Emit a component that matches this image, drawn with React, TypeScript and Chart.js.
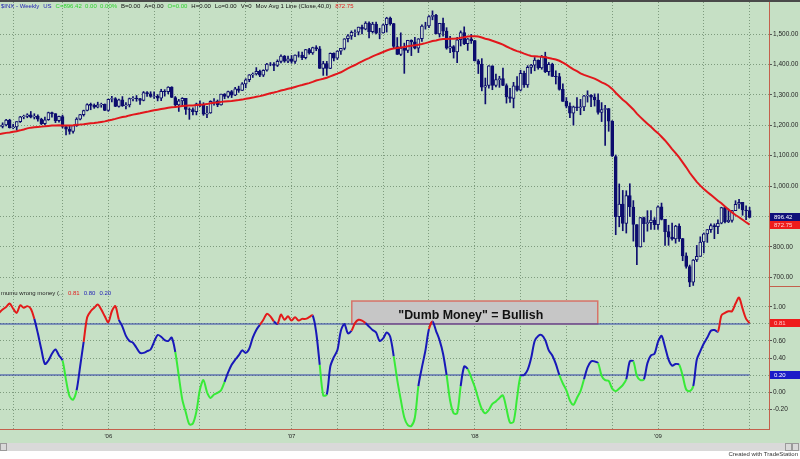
import React, { useEffect, useRef } from "react";
import { Chart, registerables } from "chart.js";

Chart.register(...registerables);

// Weekly S&P 500 bars, first bar = week ending Friday 3 June 2005, last = week ending 2 July 2009
const FIRST_WEEK_ENDING = { year: 2005, month: 5, day: 3 };

// Closes of the 39 weeks before the first plotted bar (seed for the 40-week average)
const priorCloses = [
  1113.63, 1123.92, 1128.55, 1110.11, 1131.5, 1122.14, 1108.2, 1095.74, 1130.2,
  1166.17, 1184.17, 1170.34, 1182.65, 1191.17, 1188.0, 1194.2, 1210.13, 1211.92,
  1186.19, 1184.52, 1167.87, 1171.36, 1203.03, 1205.3, 1201.59, 1211.37, 1222.12,
  1200.08, 1190.21, 1171.42, 1172.92, 1191.14, 1142.62, 1152.12, 1156.85, 1178.84,
  1154.05, 1189.28, 1198.78,
];

const openPrices = [
  1198.8, 1196.0, 1200.9, 1217.0, 1191.6, 1194.4, 1211.9, 1227.9, 1229.0, 1234.2,
  1226.4, 1230.4, 1219.7, 1205.1, 1218.0, 1241.5, 1237.9, 1215.3, 1228.8, 1195.9,
  1186.6, 1179.6, 1198.4, 1220.1, 1234.7, 1248.3, 1268.3, 1265.1, 1259.4, 1267.3,
  1268.7, 1248.3, 1285.5, 1287.6, 1261.5, 1283.7, 1264.0, 1267.0, 1287.2, 1289.4,
  1287.2, 1281.4, 1307.3, 1303.0, 1294.8, 1295.5, 1289.1, 1311.3, 1310.6, 1325.8,
  1291.2, 1267.0, 1280.2, 1288.2, 1252.3, 1251.5, 1244.5, 1270.2, 1265.5, 1236.2,
  1240.3, 1278.6, 1279.4, 1266.7, 1302.3, 1295.1, 1311.0, 1298.9, 1319.7, 1314.8,
  1335.9, 1349.6, 1365.6, 1368.6, 1377.3, 1364.3, 1380.9, 1401.2, 1401.0, 1396.7,
  1409.8, 1427.1, 1410.8, 1418.3, 1409.7, 1430.7, 1430.5, 1422.2, 1448.4, 1438.1,
  1455.5, 1451.2, 1387.2, 1402.8, 1387.0, 1436.1, 1420.9, 1443.8, 1452.9, 1484.4,
  1494.1, 1505.6, 1505.9, 1522.8, 1515.7, 1536.3, 1507.7, 1532.9, 1502.6, 1503.4,
  1530.4, 1552.5, 1534.1, 1459.0, 1433.1, 1453.6, 1445.9, 1479.4, 1474.0, 1453.6,
  1484.3, 1525.8, 1526.8, 1557.6, 1561.8, 1500.6, 1535.3, 1509.7, 1453.7, 1458.7,
  1440.7, 1481.1, 1504.7, 1468.0, 1484.5, 1478.5, 1411.6, 1401.0, 1325.2, 1330.6,
  1395.4, 1331.3, 1350.0, 1353.1, 1330.6, 1293.4, 1288.1, 1329.5, 1315.2, 1370.4,
  1332.8, 1390.3, 1397.8, 1413.9, 1388.3, 1425.4, 1375.9, 1400.4, 1360.7, 1360.0,
  1317.9, 1278.4, 1262.9, 1239.5, 1260.7, 1257.8, 1260.3, 1296.3, 1298.2, 1292.2,
  1282.8, 1242.3, 1251.7, 1255.1, 1213.3, 1097.0, 899.2, 940.6, 876.8, 968.7,
  931.0, 873.3, 800.0, 896.2, 876.1, 879.7, 887.9, 872.8, 931.8, 890.4,
  850.1, 832.0, 825.9, 868.6, 826.8, 770.1, 735.1, 683.4, 756.6, 768.5,
  815.9, 842.5, 856.6, 869.6, 866.2, 877.5, 929.2, 882.9, 887.0, 919.1,
  940.1, 946.2, 921.2, 918.9,
];

const highPrices = [
  1205.6, 1208.0, 1219.1, 1219.6, 1203.3, 1211.9, 1229.3, 1233.2, 1237.8, 1245.2,
  1237.8, 1234.5, 1223.0, 1227.0, 1243.1, 1243.1, 1238.0, 1229.9, 1233.3, 1197.0,
  1198.0, 1199.3, 1224.6, 1235.7, 1249.6, 1270.6, 1272.9, 1270.0, 1275.8, 1272.6,
  1270.0, 1286.1, 1294.9, 1290.8, 1286.0, 1294.2, 1274.6, 1289.4, 1294.2, 1297.6,
  1288.2, 1310.9, 1310.9, 1310.1, 1310.0, 1300.7, 1318.2, 1317.0, 1326.7, 1326.7,
  1294.4, 1285.0, 1290.7, 1288.8, 1257.0, 1257.3, 1272.8, 1280.4, 1274.0, 1262.4,
  1280.6, 1287.9, 1283.0, 1302.7, 1304.0, 1312.0, 1314.3, 1325.0, 1328.5, 1340.1,
  1353.0, 1366.6, 1372.0, 1389.5, 1381.4, 1382.5, 1403.8, 1406.3, 1406.3, 1415.0,
  1431.8, 1429.3, 1427.0, 1429.4, 1431.6, 1441.6, 1440.7, 1449.3, 1453.0, 1456.8,
  1461.6, 1459.0, 1410.3, 1410.0, 1437.7, 1437.8, 1445.0, 1453.1, 1484.7, 1498.0,
  1510.3, 1513.8, 1522.8, 1529.3, 1540.6, 1540.0, 1538.7, 1539.6, 1519.0, 1532.4,
  1555.1, 1555.9, 1535.0, 1488.3, 1503.9, 1470.0, 1479.4, 1481.0, 1488.7, 1485.0,
  1530.0, 1538.7, 1561.0, 1576.1, 1565.0, 1535.3, 1552.8, 1520.8, 1492.1, 1462.0,
  1488.9, 1510.3, 1523.6, 1485.5, 1499.0, 1479.0, 1416.0, 1419.0, 1355.2, 1396.0,
  1395.4, 1368.0, 1361.0, 1388.3, 1336.0, 1321.7, 1341.0, 1359.7, 1380.9, 1378.0,
  1395.9, 1399.9, 1422.7, 1415.0, 1429.5, 1440.2, 1406.3, 1404.1, 1379.0, 1370.6,
  1336.0, 1291.0, 1274.0, 1263.0, 1291.2, 1285.0, 1297.9, 1313.2, 1300.7, 1303.0,
  1303.0, 1274.4, 1265.0, 1255.1, 1215.0, 1102.0, 1006.9, 985.4, 984.4, 1007.5,
  952.0, 873.3, 897.0, 897.5, 918.9, 918.8, 896.0, 934.7, 943.9, 890.4,
  871.0, 877.9, 870.8, 876.0, 827.8, 780.1, 740.0, 758.3, 804.5, 832.9,
  845.6, 856.6, 875.6, 875.6, 888.7, 930.2, 930.2, 924.6, 920.0, 951.7,
  956.2, 946.3, 935.0, 930.2,
];

const lowPrices = [
  1191.1, 1191.0, 1198.0, 1190.5, 1188.3, 1183.6, 1209.0, 1221.0, 1224.5, 1224.0,
  1220.5, 1213.0, 1202.0, 1201.1, 1216.0, 1226.5, 1208.6, 1210.0, 1191.0, 1168.0,
  1170.5, 1174.0, 1196.0, 1217.0, 1230.0, 1247.0, 1250.9, 1255.5, 1257.0, 1259.0,
  1248.0, 1245.7, 1277.0, 1260.9, 1259.4, 1261.7, 1253.6, 1260.0, 1279.5, 1278.7,
  1268.4, 1280.0, 1295.0, 1291.8, 1288.0, 1280.0, 1280.7, 1295.6, 1303.0, 1291.0,
  1259.0, 1245.3, 1262.0, 1235.2, 1219.3, 1234.0, 1234.0, 1261.0, 1232.5, 1224.5,
  1239.0, 1265.7, 1261.0, 1266.0, 1287.0, 1290.0, 1290.9, 1297.0, 1308.0, 1314.0,
  1323.0, 1343.0, 1357.0, 1365.0, 1360.0, 1360.0, 1378.0, 1395.5, 1379.8, 1393.0,
  1404.6, 1407.0, 1406.0, 1403.9, 1403.0, 1424.0, 1416.0, 1418.0, 1433.4, 1433.0,
  1445.0, 1386.6, 1363.9, 1363.8, 1386.0, 1411.4, 1416.0, 1433.0, 1448.0, 1474.0,
  1482.5, 1491.0, 1497.0, 1500.5, 1513.8, 1487.0, 1503.0, 1500.2, 1484.2, 1503.0,
  1506.3, 1529.0, 1455.0, 1432.5, 1429.0, 1370.6, 1439.0, 1429.0, 1451.0, 1439.0,
  1476.0, 1516.0, 1521.0, 1546.7, 1500.0, 1490.0, 1492.5, 1450.0, 1438.5, 1420.8,
  1406.1, 1460.7, 1465.0, 1446.0, 1469.0, 1411.2, 1370.0, 1313.0, 1270.1, 1322.0,
  1316.8, 1326.0, 1324.5, 1330.0, 1272.7, 1274.8, 1257.0, 1312.0, 1312.6, 1324.4,
  1324.4, 1370.0, 1379.0, 1384.0, 1384.0, 1373.0, 1364.1, 1359.9, 1335.5, 1315.3,
  1278.3, 1257.0, 1225.0, 1200.4, 1248.0, 1234.4, 1247.5, 1276.0, 1261.0, 1263.0,
  1236.0, 1212.0, 1133.5, 1180.0, 1097.0, 839.8, 865.8, 852.9, 845.3, 899.7,
  818.7, 741.0, 799.0, 815.7, 851.4, 857.1, 857.0, 857.3, 888.3, 804.5,
  804.9, 821.7, 812.0, 818.0, 754.3, 729.6, 666.8, 672.9, 751.5, 768.5,
  779.9, 814.5, 847.0, 826.8, 843.0, 875.6, 878.9, 879.6, 880.9, 919.1,
  925.9, 903.8, 888.9, 896.4,
];

const closePrices = [
  1196.02, 1200.93, 1216.96, 1191.57, 1194.44, 1211.86, 1227.92, 1229.03, 1234.18, 1226.42,
  1230.39, 1219.71, 1205.1, 1218.02, 1241.48, 1237.91, 1215.29, 1228.81, 1195.9, 1186.57,
  1179.59, 1198.41, 1220.14, 1234.72, 1248.27, 1268.25, 1265.08, 1259.37, 1267.32, 1268.66,
  1248.29, 1285.45, 1287.61, 1261.49, 1283.72, 1264.03, 1266.99, 1287.24, 1289.43, 1287.23,
  1281.42, 1307.25, 1302.95, 1294.83, 1295.5, 1289.12, 1311.28, 1310.61, 1325.76, 1291.24,
  1267.03, 1280.16, 1288.22, 1252.3, 1251.54, 1244.5, 1270.2, 1265.48, 1236.2, 1240.29,
  1278.55, 1279.36, 1266.74, 1302.3, 1295.09, 1311.01, 1298.92, 1319.66, 1314.78, 1335.85,
  1349.59, 1365.62, 1368.6, 1377.34, 1364.3, 1380.9, 1401.2, 1400.95, 1396.71, 1409.84,
  1427.09, 1410.76, 1418.3, 1409.71, 1430.73, 1430.5, 1422.18, 1448.39, 1438.06, 1455.54,
  1451.19, 1387.17, 1402.84, 1386.95, 1436.11, 1420.86, 1443.76, 1452.85, 1484.35, 1494.07,
  1505.62, 1505.85, 1522.75, 1515.73, 1536.34, 1507.67, 1532.91, 1502.56, 1503.35, 1530.44,
  1552.5, 1534.1, 1458.95, 1433.06, 1453.64, 1445.94, 1479.37, 1473.99, 1453.55, 1484.25,
  1525.75, 1526.75, 1557.59, 1561.8, 1500.63, 1535.28, 1509.65, 1453.7, 1458.74, 1440.7,
  1481.14, 1504.66, 1467.95, 1484.46, 1478.49, 1411.63, 1401.02, 1325.19, 1330.61, 1395.42,
  1331.29, 1349.99, 1353.11, 1330.63, 1293.37, 1288.14, 1329.51, 1315.22, 1370.4, 1332.83,
  1390.33, 1397.84, 1413.9, 1388.28, 1425.35, 1375.93, 1400.38, 1360.68, 1360.03, 1317.93,
  1278.38, 1262.9, 1239.49, 1260.68, 1257.76, 1260.31, 1296.32, 1298.2, 1292.2, 1282.83,
  1242.31, 1251.7, 1255.08, 1213.27, 1099.23, 899.22, 940.55, 876.77, 968.75, 930.99,
  873.29, 800.03, 896.24, 876.07, 879.73, 887.88, 872.8, 931.8, 890.35, 850.12,
  831.95, 825.88, 868.6, 826.84, 770.05, 735.09, 683.38, 756.55, 768.54, 815.94,
  842.5, 856.56, 869.6, 866.23, 877.52, 929.23, 882.88, 887.0, 919.14, 940.09,
  946.21, 921.23, 918.9, 896.42,
];

// "wrong money" sentiment oscillator, one value per weekly bar
const moneyIndex = [
  0.93, 0.97, 1.0, 1.04, 0.98, 0.93, 1.02, 0.99, 1.01, 0.98,
  0.86, 0.69, 0.5, 0.33, 0.37, 0.45, 0.5, 0.43, 0.37, 0.14,
  -0.05, -0.09, 0.02, 0.3, 0.59, 0.88, 0.95, 0.99, 1.03, 0.97,
  0.89, 0.82, 0.95, 1.01, 0.85, 0.77, 0.66, 0.6, 0.58, 0.52,
  0.46, 0.46, 0.48, 0.5, 0.59, 0.67, 0.65, 0.61, 0.6, 0.64,
  0.47, 0.19, -0.09, -0.24, -0.38, -0.37, -0.23, 0.03, 0.14, 0.0,
  -0.07, -0.03, -0.01, 0.02, 0.12, 0.23, 0.32, 0.38, 0.43, 0.49,
  0.46, 0.51, 0.64, 0.73, 0.79, 0.85, 0.92, 0.89, 0.83, 0.8,
  0.91, 0.85, 0.89, 0.84, 0.88, 0.84, 0.86, 0.86, 0.88, 0.9,
  0.7, 0.32, -0.04, -0.03, 0.3, 0.41, 0.49, 0.72, 0.8, 0.69,
  0.72, 0.81, 0.85, 0.84, 0.81, 0.77, 0.73, 0.7, 0.6, 0.63,
  0.7, 0.65, 0.42, 0.14, -0.09, -0.3, -0.39, -0.4, -0.3, 0.07,
  0.29, 0.49, 0.74, 0.83, 0.72, 0.61, 0.45, 0.2, -0.1, -0.25,
  -0.25, 0.07, 0.3, 0.27, 0.17, 0.06, -0.08, -0.2, -0.25, -0.21,
  -0.14, -0.11, -0.07, -0.04, -0.2, -0.36, -0.35, -0.07, 0.19, 0.2,
  0.26, 0.4, 0.6, 0.66, 0.67, 0.61, 0.49, 0.43, 0.33, 0.2,
  0.1, 0.02, -0.1, -0.15, -0.07, 0.01, 0.15, 0.29, 0.36, 0.36,
  0.34, 0.19, 0.14, 0.13, 0.04, 0.01, 0.04, 0.08, 0.15, 0.36,
  0.36, 0.19, 0.14, 0.15, 0.34, 0.43, 0.45, 0.59, 0.66, 0.53,
  0.38, 0.31, 0.33, 0.32, 0.19, 0.03, 0.01, 0.07, 0.38, 0.48,
  0.57, 0.64, 0.72, 0.73, 0.71, 0.9, 0.93, 0.95, 0.95, 1.04,
  1.11, 0.98, 0.86, 0.81,
];

const MA_LENGTH = 40;
const upperLevel = 0.8;
const lowerLevel = 0.2;
const priceTicks = [700, 800, 900, 1000, 1100, 1200, 1300, 1400, 1500];
const oscTicks = [-0.2, 0, 0.2, 0.4, 0.6, 0.8, 1.0];
const symbolTitle = "$INX - Weekly";
const exchangeTitle = "US";
const indicatorTitle = "mumu wrong money (...";
const calloutText = '"Dumb Money" = Bullish';
const creditText = "Created with TradeStation";

// visible window (in weekly bar units) and value ranges of the two panes
const X_MIN = 0.26;
const X_MAX = 218.5;
const PRICE_MIN = 667.8;
const PRICE_MAX = 1605.3;
const OSC_MIN = -0.435;
const OSC_MAX = 1.235;
// callout box span: weeks and oscillator values
const calloutWeeks = [100.1, 169.9];
const calloutValues = [0.8, 1.07];

const BG = "#c6e0c5";
const GRID = "rgba(95,125,95,0.7)";
const NAVY = "#0d0d6e";
const UP_FILL = "#d3e8d2";
const MA_RED = "#e2171c";
const AXIS_RED = "#c4604c";
const OSC_RED = "#e41a1a";
const OSC_BLUE = "#1818b8";
const OSC_GREEN = "#38ea38";
const LEVEL_BLUE = "#2c3ca8";
const TEXT = "#262626";
const FONT = "'Liberation Sans', Arial, sans-serif";

const lastIndex = closePrices.length - 1;
const weekDates = closePrices.map(
  (_, i) => new Date(FIRST_WEEK_ENDING.year, FIRST_WEEK_ENDING.month, FIRST_WEEK_ENDING.day + 7 * i)
);
const quarterTicks = weekDates
  .map((d, i) => (d.getMonth() % 3 === 0 && d.getDate() <= 7 ? i : -1))
  .filter((i) => i >= 0);

const allCloses = [...priorCloses, ...closePrices];
const movingAverage = closePrices.map((_, i) => {
  const end = priorCloses.length + i + 1;
  const win = allCloses.slice(end - MA_LENGTH, end);
  return win.reduce((a, b) => a + b, 0) / MA_LENGTH;
});

const lastClose = closePrices[lastIndex];
const lastAverage = movingAverage[lastIndex];
const lastMoney = moneyIndex[lastIndex];

const fmt2 = (v: number) =>
  v.toLocaleString("en-US", { minimumFractionDigits: 2, maximumFractionDigits: 2 });

const yearLabel = (v: number) => {
  const d = weekDates[Math.round(v)];
  return d && d.getMonth() === 0 ? "'" + String(d.getFullYear()).slice(2) : "";
};

const zoneColor = (v: number) => (v > upperLevel ? OSC_RED : v < lowerLevel ? OSC_GREEN : OSC_BLUE);

function drawRun(ctx: any, parts: { text: string; color: string }[], x: number, y: number, font: string, gap: number) {
  ctx.save();
  ctx.font = font;
  ctx.textBaseline = "middle";
  ctx.textAlign = "left";
  let cx = x;
  for (const p of parts) {
    ctx.fillStyle = p.color;
    ctx.fillText(p.text, cx, y);
    cx += ctx.measureText(p.text).width + gap;
  }
  ctx.restore();
}

function drawValueTags(chart: any, tags: { value: number; fill: string; text: string; ink: string }[]) {
  const { ctx, chartArea, scales } = chart;
  const h = 8;
  let prevBottom = -Infinity;
  ctx.save();
  ctx.font = `6px ${FONT}`;
  ctx.textBaseline = "middle";
  ctx.textAlign = "left";
  for (const t of tags) {
    let top = Math.round(scales.y.getPixelForValue(t.value) - h / 2);
    if (top < prevBottom) top = prevBottom;
    ctx.fillStyle = t.fill;
    ctx.fillRect(chartArea.right + 1, top, chart.width - chartArea.right - 1, h);
    ctx.fillStyle = t.ink;
    ctx.fillText(t.text, chartArea.right + 5, top + h / 2 + 0.5);
    prevBottom = top + h;
  }
  ctx.restore();
}

const timeAxis = (withLabels: boolean, height: number) => ({
  type: "linear",
  min: X_MIN,
  max: X_MAX,
  offset: false,
  afterBuildTicks: (s: any) => {
    s.ticks = quarterTicks.map((v) => ({ value: v }));
  },
  afterFit: (s: any) => {
    s.height = height;
    s.paddingLeft = 0;
    s.paddingRight = 0;
  },
  grid: { color: GRID, lineWidth: 1, offset: false, drawTicks: false },
  border: { display: withLabels, color: AXIS_RED, width: 1, dash: [1, 2] },
  ticks: {
    display: withLabels,
    autoSkip: false,
    maxRotation: 0,
    padding: 4,
    color: TEXT,
    font: { family: FONT, size: 6 },
    callback: (v: any) => yearLabel(Number(v)),
  },
});

const valueAxis = (min: number, max: number, ticks: number[]) => ({
  type: "linear",
  position: "right",
  min,
  max,
  beginAtZero: false,
  afterBuildTicks: (s: any) => {
    s.ticks = ticks.map((v) => ({ value: v }));
  },
  afterFit: (s: any) => {
    s.width = 31;
    s.paddingTop = 0;
    s.paddingBottom = 0;
  },
  grid: { color: GRID, lineWidth: 1, drawTicks: true, tickLength: 3, tickColor: "#555" },
  border: { display: true, color: AXIS_RED, width: 1, dash: [1, 2] },
  ticks: {
    padding: 1,
    color: TEXT,
    font: { family: FONT, size: 6.5 },
    callback: (v: any) => fmt2(Number(v)),
  },
});

export default function App() {
  const upperRef = useRef<HTMLCanvasElement>(null);
  const lowerRef = useRef<HTMLCanvasElement>(null);

  useEffect(() => {
    document.body.style.margin = "0";

    const headerPlugin = {
      id: "priceHeader",
      afterDraw(chart: any) {
        drawRun(
          chart.ctx,
          [
            { text: symbolTitle, color: "#2323b4" },
            { text: exchangeTitle, color: "#2323b4" },
            { text: `C=${fmt2(lastClose)}  0.00  0.00%`, color: "#2ed42e" },
            { text: "B=0.00", color: "#111" },
            { text: "A=0.00", color: "#111" },
            { text: "O=0.00", color: "#2ed42e" },
            { text: "H=0.00", color: "#111" },
            { text: "Lo=0.00", color: "#111" },
            { text: "V=0", color: "#111" },
            { text: `Mov Avg 1 Line (Close,${MA_LENGTH},0)`, color: "#111" },
            { text: lastAverage.toFixed(2), color: "#e22020" },
          ],
          1,
          4.5,
          `6px ${FONT}`,
          4
        );
        drawValueTags(chart, [
          { value: lastClose, fill: "#10107a", text: fmt2(lastClose), ink: "#ffffff" },
          { value: lastAverage, fill: "#ee1c1c", text: fmt2(lastAverage), ink: "#ffd0d0" },
        ]);
      },
    };

    const upper = new Chart(upperRef.current as HTMLCanvasElement, {
      type: "bar",
      data: {
        datasets: [
          {
            type: "line",
            data: movingAverage.map((v, i) => ({ x: i, y: v })),
            borderColor: MA_RED,
            borderWidth: 2,
            pointRadius: 0,
            tension: 0,
            order: 0,
          },
          {
            type: "bar",
            data: closePrices.map((c, i) => ({ x: i, y: [openPrices[i], c] })),
            backgroundColor: closePrices.map((c, i) => (c >= openPrices[i] ? UP_FILL : NAVY)),
            borderColor: NAVY,
            borderWidth: 1,
            borderSkipped: false,
            barThickness: 3,
            grouped: false,
            order: 1,
          },
          {
            type: "bar",
            data: closePrices.map((_, i) => ({ x: i, y: [lowPrices[i], highPrices[i]] })),
            backgroundColor: NAVY,
            borderWidth: 0,
            barThickness: 1,
            grouped: false,
            order: 2,
          },
        ],
      } as any,
      options: {
        responsive: false,
        animation: false,
        events: [],
        layout: { padding: 0 },
        plugins: { legend: { display: false }, tooltip: { enabled: false } },
        scales: {
          x: timeAxis(false, 0),
          y: valueAxis(PRICE_MIN, PRICE_MAX, priceTicks),
        },
      } as any,
      plugins: [headerPlugin],
    });

    const lowerPlugin = {
      id: "sentimentDecor",
      beforeDatasetsDraw(chart: any) {
        const { ctx, scales } = chart;
        const x1 = scales.x.getPixelForValue(calloutWeeks[0]);
        const x2 = scales.x.getPixelForValue(calloutWeeks[1]);
        const yTop = scales.y.getPixelForValue(calloutValues[1]);
        const yBot = scales.y.getPixelForValue(calloutValues[0]);
        ctx.save();
        ctx.fillStyle = "#c6c6c6";
        ctx.fillRect(x1, yTop, x2 - x1, yBot - yTop);
        ctx.strokeStyle = "#d8736a";
        ctx.lineWidth = 1.5;
        ctx.strokeRect(x1, yTop, x2 - x1, yBot - yTop);
        ctx.fillStyle = "#111";
        ctx.font = `bold 12.4px ${FONT}`;
        ctx.textAlign = "center";
        ctx.textBaseline = "alphabetic";
        ctx.fillText(calloutText, (x1 + x2) / 2 - 4, yBot - 5);
        ctx.restore();
      },
      afterDraw(chart: any) {
        const { ctx, chartArea } = chart;
        drawRun(
          ctx,
          [
            { text: indicatorTitle, color: "#222" },
            { text: lastMoney.toFixed(2), color: "#e22020" },
            { text: upperLevel.toFixed(2), color: "#2323b4" },
            { text: lowerLevel.toFixed(2), color: "#2323b4" },
          ],
          1,
          6,
          `6px ${FONT}`,
          4
        );
        drawValueTags(chart, [
          { value: lastMoney, fill: "#ee1c1c", text: lastMoney.toFixed(2), ink: "#ffc8c8" },
          { value: lowerLevel, fill: "#1c1cc8", text: lowerLevel.toFixed(2), ink: "#ffffff" },
        ]);
        // scroll bar strip and credit line under the time axis
        const top = chartArea.bottom + 14;
        ctx.save();
        ctx.fillStyle = "#d9d9d9";
        ctx.fillRect(0, top, chart.width, 8);
        ctx.strokeStyle = "#9a9a9a";
        ctx.lineWidth = 1;
        ctx.strokeRect(0.5, top + 0.5, 6, 7);
        ctx.strokeRect(chart.width - 14.5, top + 0.5, 6, 7);
        ctx.strokeRect(chart.width - 7.5, top + 0.5, 6, 7);
        ctx.fillStyle = "#ffffff";
        ctx.fillRect(0, top + 8, chart.width, chart.height - top - 8);
        ctx.fillStyle = "#333";
        ctx.font = `6px ${FONT}`;
        ctx.textAlign = "right";
        ctx.textBaseline = "middle";
        ctx.fillText(creditText, chart.width - 2, top + 11.5);
        ctx.restore();
      },
    };

    const levelLine = (v: number) => ({
      data: [
        { x: -1, y: v },
        { x: lastIndex, y: v },
      ],
      borderColor: LEVEL_BLUE,
      borderWidth: 1,
      pointRadius: 0,
      order: 1,
    });

    const lower = new Chart(lowerRef.current as HTMLCanvasElement, {
      type: "line",
      data: {
        datasets: [
          {
            data: moneyIndex.map((v, i) => ({ x: i, y: v })),
            borderColor: OSC_BLUE,
            borderWidth: 2,
            pointRadius: 0,
            tension: 0.3,
            order: 0,
            segment: { borderColor: (c: any) => zoneColor(c.p1.parsed.y) },
          },
          levelLine(upperLevel),
          levelLine(lowerLevel),
        ],
      } as any,
      options: {
        responsive: false,
        animation: false,
        events: [],
        layout: { padding: 0 },
        plugins: { legend: { display: false }, tooltip: { enabled: false } },
        scales: {
          x: timeAxis(true, 30),
          y: valueAxis(OSC_MIN, OSC_MAX, oscTicks),
        },
      } as any,
      plugins: [lowerPlugin],
    });

    return () => {
      upper.destroy();
      lower.destroy();
    };
  }, []);

  return (
    <div style={{ position: "relative", width: 800, height: 459, background: "#ffffff", overflow: "hidden" }}>
      <div style={{ position: "absolute", left: 0, top: 0, width: 800, height: 444, background: BG }} />
      <div style={{ position: "absolute", left: 0, top: 0, width: 800, height: 2, background: "#4a4a4a" }} />
      <div style={{ position: "absolute", left: 769, top: 286, width: 31, height: 1, background: AXIS_RED }} />
      <canvas ref={upperRef} width={800} height={285} style={{ position: "absolute", left: 0, top: 2 }} />
      <canvas ref={lowerRef} width={800} height={172} style={{ position: "absolute", left: 0, top: 287 }} />
    </div>
  );
}
